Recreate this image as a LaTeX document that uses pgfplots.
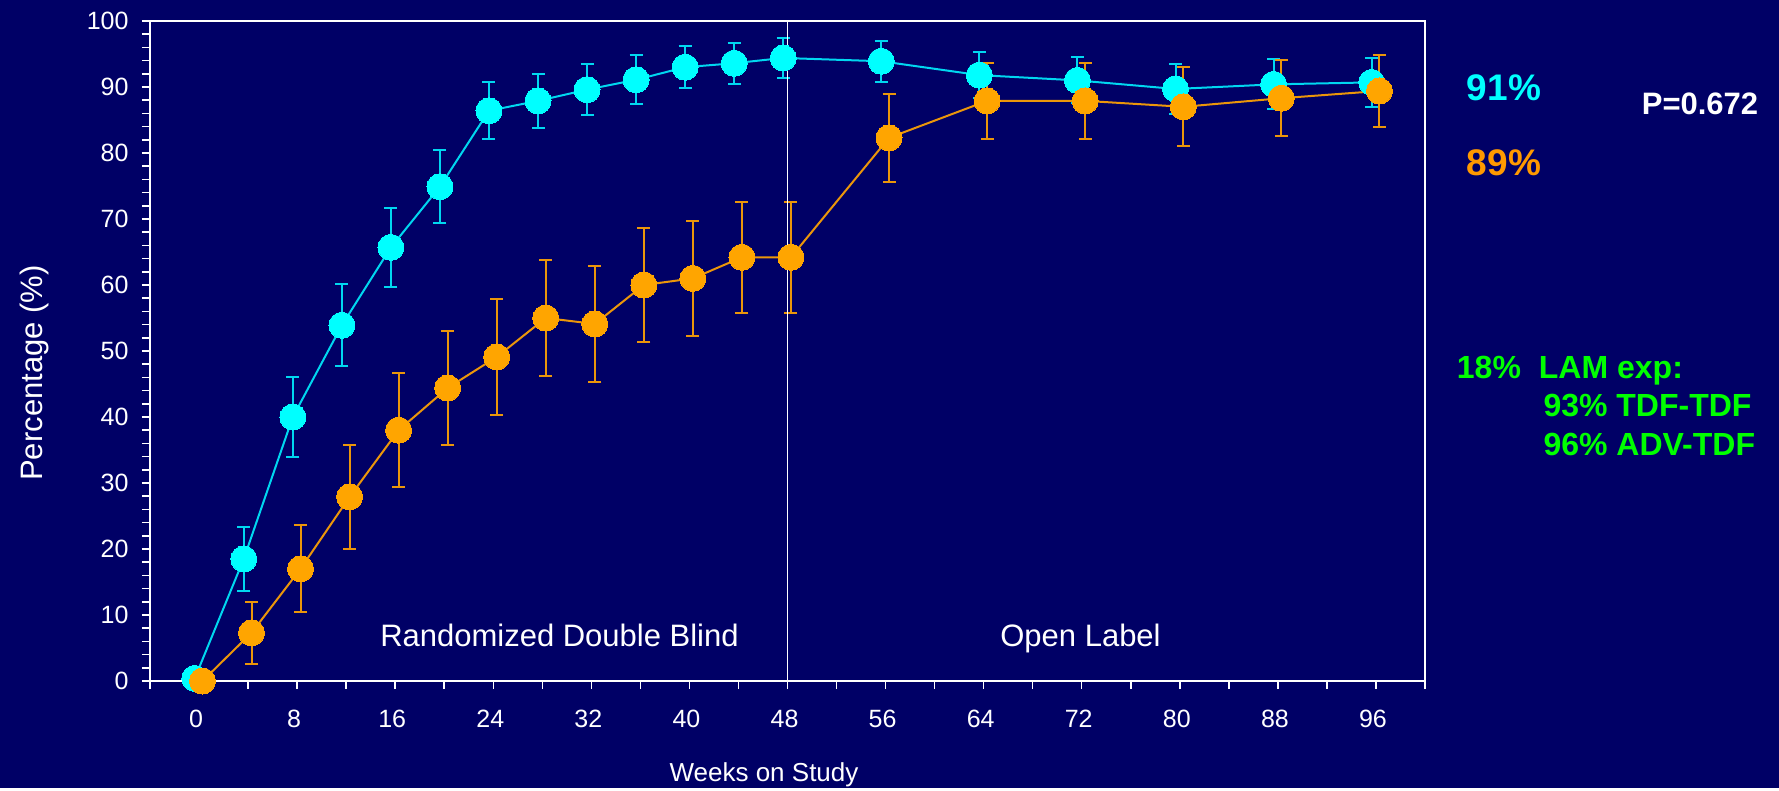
\documentclass[border=0pt]{standalone}
\usepackage{pgfplots}
\pgfplotsset{compat=1.18}
\usepackage{pgfplotstable}
\usepackage{fontspec}
\setmainfont{Liberation Sans}
\definecolor{bg}{RGB}{0,0,102}
\definecolor{cyanA}{RGB}{0,255,255}
\definecolor{cyanL}{RGB}{0,215,240}
\definecolor{orangeA}{RGB}{255,165,0}
\definecolor{orangeL}{RGB}{235,150,10}
\definecolor{greenA}{RGB}{0,255,0}
\definecolor{orangeT}{RGB}{255,153,0}

\pgfplotstableread{
wk v e
0 0.4 0.5
4 18.5 4.9
8 40.0 6.1
12 53.9 6.2
16 65.7 6.0
20 74.9 5.5
24 86.4 4.3
28 87.9 4.1
32 89.6 3.9
36 91.1 3.7
40 93.0 3.2
44 93.6 3.1
48 94.4 3.0
56 93.9 3.1
64 91.8 3.5
72 91.0 3.5
80 89.7 3.85
88 90.4 3.8
96 90.7 3.75
}\cyandata

\pgfplotstableread{
wk v e
0 0.0 0.0
4 7.3 4.7
8 17.0 6.6
12 27.9 7.9
16 38.0 8.6
20 44.4 8.7
24 49.1 8.8
28 55.0 8.8
32 54.1 8.8
36 60.0 8.7
40 61.0 8.7
44 64.2 8.45
48 64.2 8.45
56 82.3 6.7
64 87.9 5.75
72 87.9 5.75
80 87.0 6.0
88 88.3 5.8
96 89.4 5.45
}\orangedata

\begin{document}
\begin{tikzpicture}
\fill[bg] (-150pt,-107pt) rectangle (1629pt,681pt);
\begin{axis}[
  at={(0pt,0pt)}, anchor=south west, scale only axis,
  width=1275pt, height=660pt,
  xmin=-4, xmax=100, ymin=0, ymax=100,
  axis background/.style={fill=bg},
  axis line style={white, line width=1.5pt},
  xtick={0,8,...,96}, minor xtick={-4,4,...,100},
  ytick={0,10,...,100}, minor ytick={0,2,...,100},
  xtick pos=left, ytick pos=left,
  tick align=outside,
  major tick length=8pt, minor tick length=8pt,
  tick style={white, line width=1.5pt},
  minor tick style={white, line width=1.5pt},
  ticklabel style={font=\fontsize{25}{25}\selectfont, text=white},
  xticklabel style={yshift=-18pt, xshift=-3pt},
  yticklabel style={xshift=-10pt},
  /pgf/number format/assume math mode=true,
  clip=false,
]
\addplot[color=cyanL, line width=2pt, mark=*, mark size=13pt,
  mark options={fill=cyanA, draw=cyanA, line width=0pt},
  error bars/.cd, y dir=both, y explicit,
  error bar style={line width=2pt, cyanL},
  error mark options={rotate=90, mark size=6.5pt, line width=2pt, cyanL}]
  table[x expr=\thisrow{wk}-0.35, y=v, y error=e] {\cyandata};
\addplot[color=orangeL, line width=2pt, mark=*, mark size=13pt,
  mark options={fill=orangeA, draw=orangeA, line width=0pt},
  error bars/.cd, y dir=both, y explicit,
  error bar style={line width=2pt, orangeL},
  error mark options={rotate=90, mark size=6.5pt, line width=2pt, orangeL}]
  table[x expr=\thisrow{wk}+0.28, y=v, y error=e] {\orangedata};
\addplot[white, line width=1.5pt, mark=none] coordinates {(48,0) (48,100)};
\node[text=white, font=\fontsize{31}{31}\selectfont, anchor=base] at (axis cs:29.4,5.2) {Randomized Double Blind};
\node[text=white, font=\fontsize{31}{31}\selectfont, anchor=base] at (axis cs:71.9,5.2) {Open Label};
\end{axis}
\node[rotate=90, text=white, font=\fontsize{31}{31}\selectfont] at (-116pt,308pt) {Percentage (\%)};
\node[text=white, font=\fontsize{26}{26}\selectfont, anchor=base] at (614pt,-100.7pt) {Weeks on Study};
\node[text=cyanA, font=\fontsize{37}{37}\selectfont\bfseries, anchor=base] at (1354pt,580.3pt) {91\%};
\node[text=orangeT, font=\fontsize{37}{37}\selectfont\bfseries, anchor=base] at (1354pt,505pt) {89\%};
\node[text=white, font=\fontsize{31}{31}\selectfont\bfseries, anchor=base] at (1550pt,566pt) {P=0.672};
\node[text=greenA, font=\fontsize{32}{32}\selectfont\bfseries, anchor=base west, inner sep=0pt] at (1306.7pt,302.7pt) {18\%\hspace{18pt}LAM exp:};
\node[text=greenA, font=\fontsize{32}{32}\selectfont\bfseries, anchor=base west, inner sep=0pt] at (1393.3pt,265pt) {93\% TDF-TDF};
\node[text=greenA, font=\fontsize{32}{32}\selectfont\bfseries, anchor=base west, inner sep=0pt] at (1393.3pt,226pt) {96\% ADV-TDF};
\end{tikzpicture}
\end{document}
